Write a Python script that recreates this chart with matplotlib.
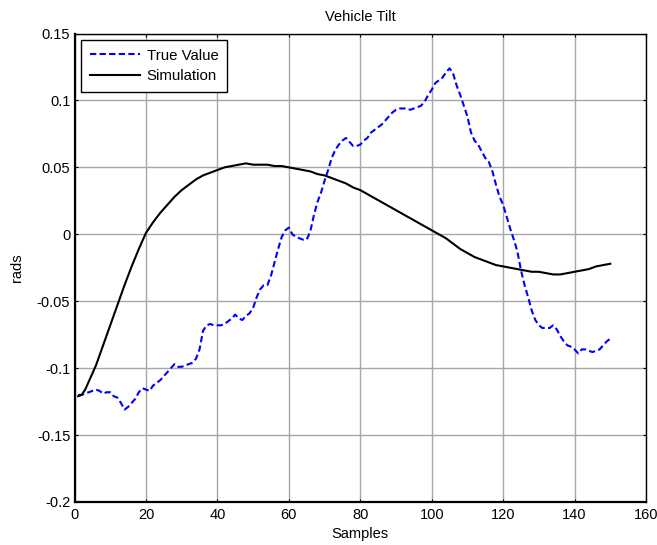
import matplotlib
matplotlib.use("Agg")
import matplotlib.pyplot as plt

# Measured tilt (one value per sample, 1..150)
true_x = list(range(1, 151))
true_y = [
    -0.120, -0.120, -0.119, -0.118, -0.117, -0.116, -0.117, -0.119, -0.118, -0.118,
    -0.121, -0.122, -0.126, -0.131, -0.129, -0.126, -0.123, -0.118, -0.115, -0.116,
    -0.117, -0.113, -0.111, -0.109, -0.106, -0.103, -0.100, -0.097, -0.099, -0.099,
    -0.098, -0.097, -0.096, -0.093, -0.086, -0.072, -0.068, -0.067, -0.068, -0.068,
    -0.068, -0.067, -0.065, -0.063, -0.060, -0.063, -0.064, -0.061, -0.059, -0.055,
    -0.047, -0.041, -0.038, -0.038, -0.031, -0.021, -0.011, -0.002, 0.003, 0.005,
    0.000, -0.002, -0.003, -0.004, -0.004, 0.002, 0.014, 0.024, 0.031, 0.040,
    0.048, 0.057, 0.063, 0.067, 0.070, 0.072, 0.069, 0.066, 0.066, 0.067,
    0.070, 0.072, 0.076, 0.078, 0.080, 0.082, 0.085, 0.088, 0.091, 0.093,
    0.094, 0.094, 0.094, 0.093, 0.094, 0.095, 0.096, 0.099, 0.104, 0.108,
    0.113, 0.115, 0.117, 0.121, 0.124, 0.120, 0.111, 0.104, 0.096, 0.088,
    0.076, 0.070, 0.067, 0.062, 0.057, 0.054, 0.047, 0.037, 0.028, 0.022,
    0.013, 0.004, -0.004, -0.013, -0.027, -0.038, -0.047, -0.057, -0.064, -0.068,
    -0.070, -0.070, -0.070, -0.068, -0.071, -0.076, -0.080, -0.083, -0.084, -0.086,
    -0.089, -0.086, -0.086, -0.087, -0.088, -0.087, -0.086, -0.083, -0.080, -0.078,
]

# Simulated tilt
sim_x = [1, 2, 3, 4, 5, 6, 8, 10, 12, 14, 16, 18, 20, 22, 24, 26, 28, 30,
         32, 34, 36, 38, 40, 42, 44, 46, 48, 50, 52, 54, 56, 58, 60, 62, 64,
         66, 68, 70, 72, 74, 76, 78, 80, 82, 84, 86, 88, 90, 92, 94, 96, 98,
         100, 102, 104, 106, 108, 110, 112, 114, 116, 118, 120, 122, 124, 126,
         128, 130, 132, 134, 136, 138, 140, 142, 144, 146, 148, 150]
sim_y = [-0.121, -0.120, -0.116, -0.110, -0.104, -0.098, -0.083, -0.068,
         -0.053, -0.038, -0.024, -0.011, 0.001, 0.009, 0.016, 0.022, 0.028,
         0.033, 0.037, 0.041, 0.044, 0.046, 0.048, 0.050, 0.051, 0.052, 0.053,
         0.052, 0.052, 0.052, 0.051, 0.051, 0.050, 0.049, 0.048, 0.047, 0.045,
         0.044, 0.042, 0.040, 0.038, 0.035, 0.033, 0.030, 0.027, 0.024, 0.021,
         0.018, 0.015, 0.012, 0.009, 0.006, 0.003, 0.000, -0.003, -0.007,
         -0.011, -0.014, -0.017, -0.019, -0.021, -0.023, -0.024, -0.025,
         -0.026, -0.027, -0.028, -0.028, -0.029, -0.030, -0.030, -0.029,
         -0.028, -0.027, -0.026, -0.024, -0.023, -0.022]

x_ticks = [0, 20, 40, 60, 80, 100, 120, 140, 160]
y_ticks = [-0.2, -0.15, -0.1, -0.05, 0, 0.05, 0.1, 0.15]
y_tick_labels = ["-0.2", "-0.15", "-0.1", "-0.05", "0", "0.05", "0.1", "0.15"]

plt.rcParams["font.family"] = ["Liberation Sans", "DejaVu Sans"]
plt.rcParams["font.size"] = 10

fig = plt.figure(figsize=(6.57, 5.45), dpi=100)
ax = fig.add_axes([0.1134, 0.0789, 0.8699, 0.8596])

ax.plot(true_x, true_y, color="#0000ff", lw=1.5, linestyle=(0, (3, 1.6)),
        label="True Value", zorder=3)
ax.plot(sim_x, sim_y, color="black", lw=1.5, label="Simulation", zorder=3)

ax.set_xlim(0, 160)
ax.set_ylim(-0.2, 0.15)
ax.set_xticks(x_ticks)
ax.set_yticks(y_ticks)
ax.set_yticklabels(y_tick_labels)
ax.grid(True, color="#a8a8a8", lw=1.0, linestyle="-")
ax.set_axisbelow(True)
ax.tick_params(direction="in", top=True, right=True, length=2.5, width=0.8,
               labelsize=10.5)
ax.tick_params(axis="x", pad=4)
ax.tick_params(axis="y", pad=3)
for side in ["top", "right"]:
    ax.spines[side].set_linewidth(1.0)
for side in ["left", "bottom"]:
    ax.spines[side].set_linewidth(1.6)

ax.set_title("Vehicle Tilt", fontsize=10.5, pad=9)
ax.set_xlabel("Samples", fontsize=10.5, labelpad=4)
ax.set_ylabel("rads", fontsize=10.5, labelpad=9)

leg = ax.legend(loc="upper left", fontsize=10.8, fancybox=False, framealpha=1,
                edgecolor="black", handlelength=3.35, borderaxespad=0.45,
                handletextpad=0.45, borderpad=0.55, labelspacing=0.45)
leg.get_frame().set_linewidth(1.0)

fig.savefig("out.png", dpi=100)
